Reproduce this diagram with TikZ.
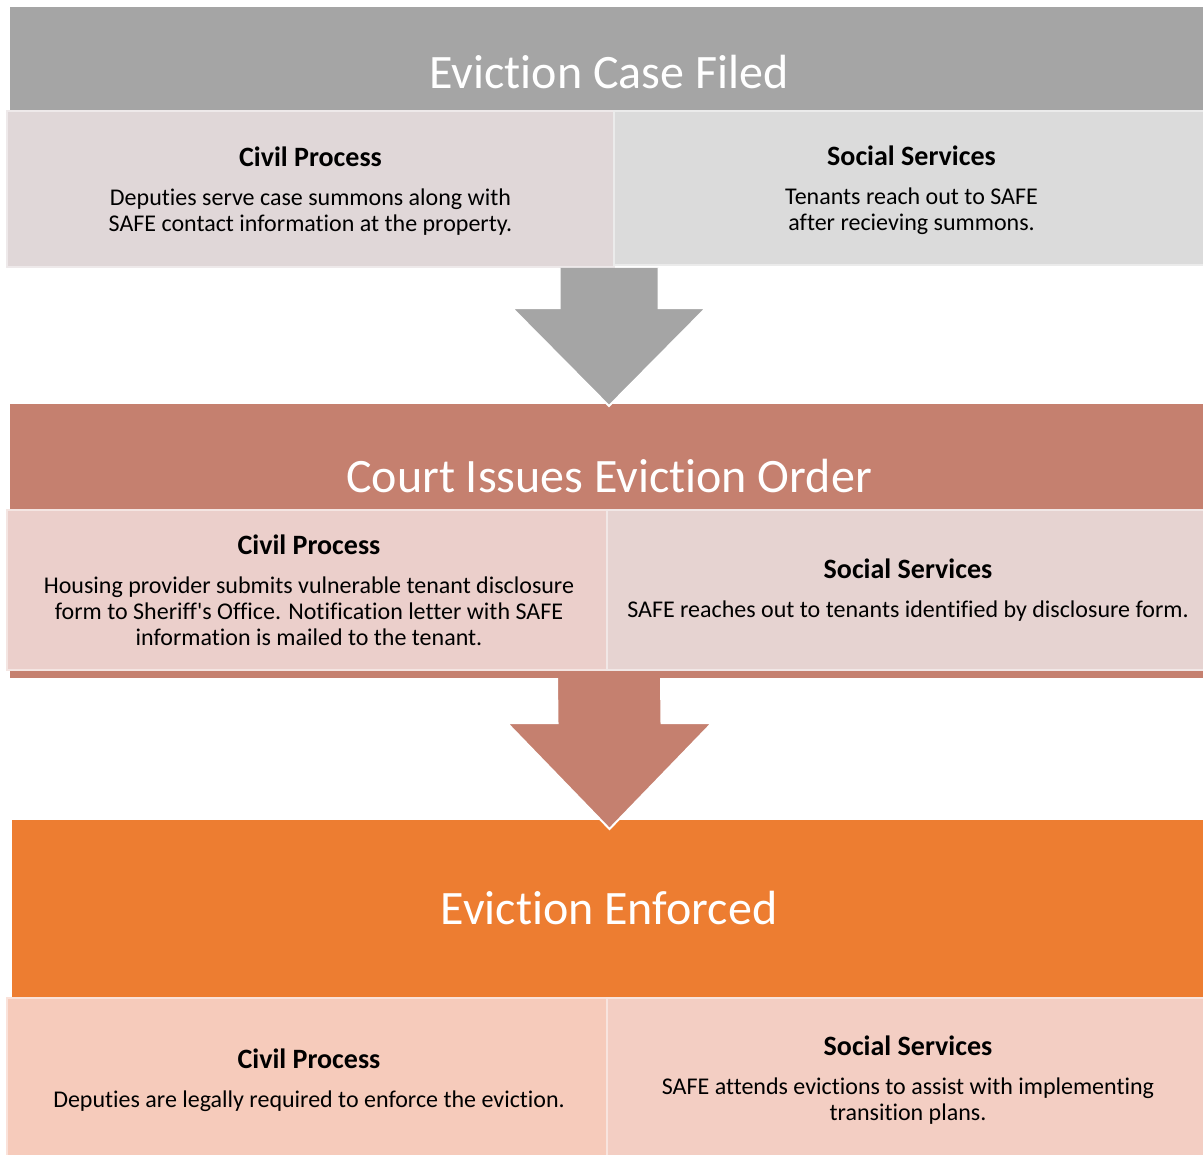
\documentclass[tikz,border=0pt]{standalone}
\usepackage{fontspec}
\setmainfont{Carlito}[Ligatures=NoCommon]
\usetikzlibrary{positioning}
\usetikzlibrary{calc}
\definecolor{FiledGrey}{HTML}{A5A5A5}
\definecolor{FiledCivil}{HTML}{E0D7D8}
\definecolor{FiledSocial}{HTML}{DBDBDB}
\definecolor{OrderRose}{HTML}{C5806F}
\definecolor{OrderCivil}{HTML}{EBCFCB}
\definecolor{OrderSocial}{HTML}{E6D3D1}
\definecolor{EnforcedOrange}{HTML}{ED7D31}
\definecolor{EnforcedCivil}{HTML}{F6CBBB}
\definecolor{EnforcedSocial}{HTML}{F3CEC3}
\newcommand{\px}{0.75pt}
%% \DownArrow{<colour>}{<top>}{<tip>}{<head length>}{<shaft half>}{<head half>}
\newcommand{\DownArrow}[6]{%
\filldraw[fill=#1, draw=white, line width=1.5pt, line join=miter]
  ($(#2)+(-#5,0)$) -- ($(#3)+(-#5,-#4)$) -- ($(#3)+(-#6,-#4)$) -- (#3)
  -- ($(#3)+(#6,-#4)$) -- ($(#3)+(#5,-#4)$) -- ($(#2)+(#5,0)$);% no top edge
}
\tikzset{
  stagetitle/.style={text=white, inner sep=0pt, font=\fontsize{36}{40}\selectfont},
  cellbox/.style={rectangle, align=center, inner sep=0pt, draw=#1!55!white, fill=#1, line width=1.2pt,
    font=\fontsize{18}{19.5}\selectfont},
}
\newcommand{\cellhead}[1]{{\bfseries\fontsize{21}{24}\selectfont #1}\\[9.5pt]}

\begin{document}
\begin{tikzpicture}[x=0.75pt, y=-0.75pt]
  \useasboundingbox (0,0) rectangle (1203,1154);
  % eviction case filed:
  \fill[FiledGrey] (10,7) rectangle (1203,111);
  \node[stagetitle] (filed) at (609,72) {Eviction Case Filed};
  \node[cellbox=FiledCivil, minimum width=607*\px, minimum height=156*\px] (fcivil) at (310.5,189) {};
  \node[align=center, font=\fontsize{18}{19.5}\selectfont] (fcivtext) at (310.5,191)
    {\cellhead{Civil Process}Deputies serve case summons along with\\SAFE contact information at the property.};
  \node[cellbox=FiledSocial, minimum width=595*\px, minimum height=154*\px] (fsocial) at (911.5,188) {};
  \node[align=center, font=\fontsize{18}{19.5}\selectfont] (fsoctext) at (911.5,190)
    {\cellhead{Social Services}Tenants reach out to SAFE\\after recieving summons.};
  %
  % court issues eviction order:
  \fill[OrderRose] (10,404) rectangle (1203,678);
  \node[stagetitle] (order) at (609,476) {Court Issues Eviction Order};
  \node[cellbox=OrderCivil, minimum width=604*\px, minimum height=160*\px] (ocivil) at (309,590)
    {\cellhead{Civil Process}Housing provider submits vulnerable tenant disclosure\\form to Sheriff\textquotesingle s Office. Notification letter with SAFE\\information is mailed to the tenant.};
  \node[cellbox=OrderSocial, minimum width=602*\px, minimum height=160*\px] (osocial) at (908,590)
    {\cellhead{Social Services}SAFE reaches out to tenants identified by disclosure form.};
  \coordinate (a1top) at (filed |- fcivil.south);
  \coordinate (a1tip) at (609,406);
  \DownArrow{FiledGrey}{a1top}{a1tip}{98}{49.5}{97}
  %
  % eviction enforced:
  \fill[EnforcedOrange] (12,820) rectangle (1203,997);
  \node[stagetitle] (enforced) at (609,908) {Eviction Enforced};
  \node[cellbox=EnforcedCivil, minimum width=604*\px, minimum height=164*\px] (ecivil) at (309,1080)
    {\cellhead{Civil Process}Deputies are legally required to enforce the eviction.};
  \node[cellbox=EnforcedSocial, minimum width=602*\px, minimum height=164*\px] (esocial) at (908,1080)
    {\cellhead{Social Services}SAFE attends evictions to assist with implementing\\transition plans.};
  \coordinate (a2top) at (609,678);
  \coordinate (a2tip) at (609.5,829);
  \DownArrow{OrderRose}{a2top}{a2tip}{106}{52}{102.5}
\end{tikzpicture}
\end{document}
